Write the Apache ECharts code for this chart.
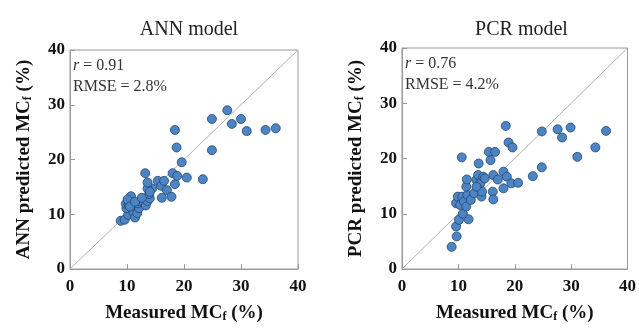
<!DOCTYPE html>
<html>
<head>
<meta charset="utf-8">
<script src="https://cdn.jsdelivr.net/npm/echarts@6/dist/echarts.min.js"></script>
<style>
  html, body { margin: 0; padding: 0; background: #fff; }
  #chart { width: 639px; height: 328px; }
</style>
</head>
<body>
<div id="chart"></div>
<script>
// measured vs predicted MCf (%)
const annMeasured = [8.9, 9.6, 10.2, 9.9, 9.8, 10.3, 10.7, 11.0, 11.1, 11.4, 11.8, 12.1, 11.9, 12.4, 12.9,
  13.3, 13.6, 14.0, 13.9, 14.4, 13.6, 13.6, 13.2, 14.0, 15.4, 16.0, 16.5, 16.1, 17.0, 17.8,
  18.0, 18.4, 18.8, 19.6, 20.5, 18.4, 18.7, 23.3, 24.9, 24.9, 27.6, 28.4, 30.0, 31.0, 34.3,
  36.1, 10.1, 10.5, 11.4, 12.6];
const annPredicted = [8.8, 9.0, 9.9, 11.1, 11.9, 11.8, 13.3, 11.4, 10.4, 9.4, 10.2, 11.1, 12.0, 12.3, 12.3,
  11.6, 12.4, 12.9, 13.7, 14.7, 14.7, 15.8, 17.5, 14.1, 16.1, 15.2, 16.1, 13.0, 14.4, 13.2,
  17.5, 15.5, 17.0, 19.5, 16.7, 25.4, 22.2, 16.4, 21.7, 27.4, 29.0, 26.5, 27.4, 25.2, 25.4,
  25.7, 12.7, 11.4, 12.3, 13.0];

const pcrMeasured = [8.8, 9.7, 9.6, 10.1, 11.8, 10.8, 9.6, 9.9, 10.3, 10.7, 11.0, 11.4, 11.6, 12.2, 11.4,
  11.5, 10.6, 12.8, 13.2, 13.5, 13.6, 13.9, 14.1, 14.2, 14.4, 15.4, 15.7, 16.5, 16.1, 16.2,
  16.2, 17.0, 18.0, 18.0, 18.6, 18.4, 18.9, 19.6, 19.4, 20.6, 23.2, 24.8, 24.8, 27.6, 28.4,
  29.9, 31.1, 34.3, 36.2, 13.2, 14.7];
const pcrPredicted = [4.0, 5.9, 7.7, 8.9, 9.0, 10.0, 11.9, 13.1, 11.6, 13.1, 12.2, 11.3, 13.4, 12.5, 14.9,
  16.2, 20.2, 13.7, 16.1, 17.0, 19.1, 15.5, 13.1, 14.0, 16.7, 21.2, 19.7, 21.2, 14.0, 12.6,
  17.0, 16.2, 17.6, 14.6, 16.7, 25.9, 22.9, 22.0, 15.5, 15.6, 16.8, 18.4, 24.9, 25.3, 23.8,
  25.6, 20.3, 22.0, 25.0, 14.9, 16.4];

const oneToOne = [[0, 0], [40, 40]];
const annStats = ['0.91', '2.8%'];
const pcrStats = ['0.76', '4.2%'];

const pairs = (xs, ys) => xs.map((x, i) => [x, ys[i]]);

const serif = 'Liberation Serif';
const panels = [
  { title: 'ANN model', yName: 'ANN predicted', x: annMeasured, y: annPredicted, stats: annStats,
    grid: { left: 70, top: 50, width: 228, height: 219 } },
  { title: 'PCR model', yName: 'PCR predicted', x: pcrMeasured, y: pcrPredicted, stats: pcrStats,
    grid: { left: 402, top: 48, width: 229, height: 221 } },
];

const nameRich = {
  b: { fontFamily: serif, fontWeight: 'bold', fontSize: 19, color: '#111' },
  sub: { fontFamily: serif, fontWeight: 'bold', fontSize: 12, color: '#111', padding: [7, 0, 0, 0] },
};

const axisBase = {
  type: 'value', min: 0, max: 40, interval: 10,
  axisLine: { lineStyle: { color: '#999', width: 1 } },
  axisTick: { inside: true, length: 5, lineStyle: { color: '#999' } },
  splitLine: { show: false },
  axisLabel: { fontFamily: serif, fontWeight: 'bold', fontSize: 17, color: '#111' },
};

const option = {
  animation: false,
  backgroundColor: '#fff',
  title: panels.flatMap((p) => [
    {
      text: p.title,
      left: p.grid.left + p.grid.width / 2, top: 15, textAlign: 'center',
      textStyle: { fontFamily: serif, fontWeight: 'normal', fontSize: 20, color: '#222' },
    },
    {
      text: '{i|r} = ' + p.stats[0] + '\nRMSE = ' + p.stats[1],
      left: p.grid.left + 3, top: p.grid.top + 5, padding: 0,
      textStyle: {
        fontFamily: serif, fontWeight: 'normal', fontSize: 16, color: '#333', lineHeight: 21,
        rich: { i: { fontFamily: serif, fontStyle: 'italic', fontSize: 16, color: '#333' } },
      },
    },
  ]),
  grid: panels.map((p) => ({ ...p.grid, show: true, borderColor: '#999', borderWidth: 1 })),
  xAxis: panels.map((p, i) => ({
    ...axisBase, gridIndex: i,
    axisLabel: { ...axisBase.axisLabel, margin: 9 },
    name: '{b|Measured MC}{sub|f}{b| (%)}', nameLocation: 'middle', nameGap: 35,
    nameTextStyle: { rich: nameRich },
  })),
  yAxis: panels.map((p, i) => ({
    ...axisBase, gridIndex: i,
    axisLabel: { ...axisBase.axisLabel, margin: 5 },
    name: '{b|' + p.yName + ' MC}{sub|f}{b| (%)}', nameLocation: 'middle', nameGap: 36,
    nameTextStyle: { rich: nameRich },
  })),
  series: panels.flatMap((p, i) => [
    {
      type: 'line', xAxisIndex: i, yAxisIndex: i, data: oneToOne, symbol: 'none',
      lineStyle: { color: '#b0b0b0', width: 1 }, silent: true, z: 1,
    },
    {
      type: 'scatter', xAxisIndex: i, yAxisIndex: i, data: pairs(p.x, p.y),
      symbol: 'circle', symbolSize: 9,
      itemStyle: { color: '#4d84c4', borderColor: '#23466f', borderWidth: 0.8, opacity: 1 },
      z: 2,
    },
  ]),
};

const chart = echarts.init(document.getElementById('chart'));
chart.setOption(option);
</script>
</body>
</html>
